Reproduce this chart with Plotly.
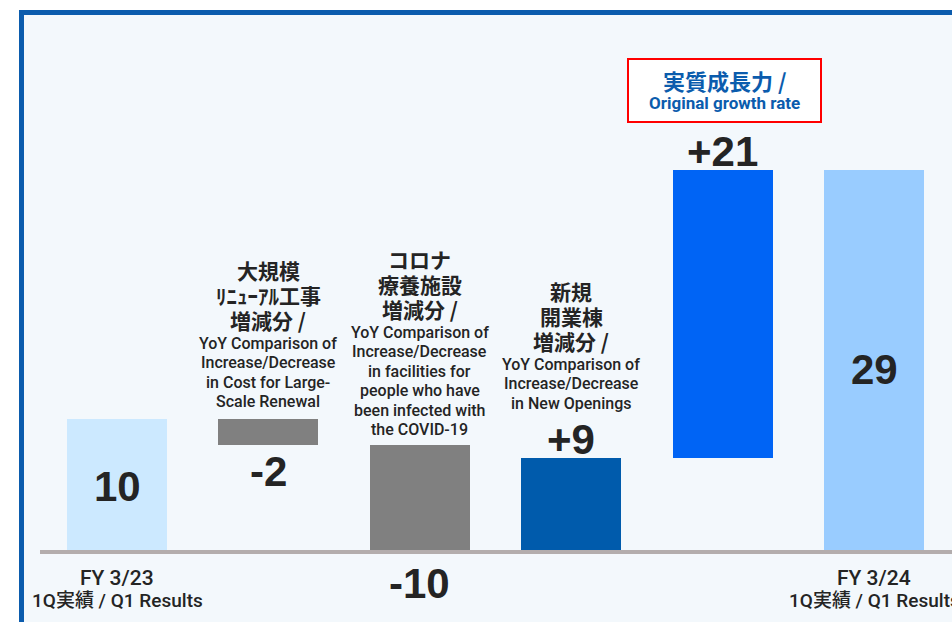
import plotly.graph_objects as go

W, H = 952, 622

# ---- data ----
categories = ["FY 3/23", "Renewal", "COVID-19", "New Openings", "Growth", "FY 3/24"]
bar_low = [0, 8, 0, 0, 7, 0]
bar_high = [10, 10, 8, 7, 29, 29]
value_labels = ["10", "-2", "-10", "+9", "+21", "29"]
bar_colors = ["#cce9ff", "#808080", "#808080", "#005bac", "#0064f5", "#99ccff"]

desc_jp = {
    1: ["大規模", "ﾘﾆｭｰｱﾙ工事", "増減分 /"],
    2: ["コロナ", "療養施設", "増減分 /"],
    3: ["新規", "開業棟", "増減分 /"],
}
desc_en = {
    1: ["YoY Comparison of", "Increase/Decrease", "in Cost for Large-", "Scale Renewal"],
    2: ["YoY Comparison of", "Increase/Decrease", "in facilities for", "people who have",
        "been infected with", "the COVID-19"],
    3: ["YoY Comparison of", "Increase/Decrease", "in New Openings"],
}
cat_line1 = {0: "FY 3/23", 5: "FY 3/24"}
cat_line2 = {0: "1Q実績 / Q1 Results", 5: "1Q実績 / Q1 Results"}
box_jp = "実質成長力 /"
box_en = "Original growth rate"

# ---- pixel mapping ----
X0PX, DXPX = 117, 151.4          # centre of first bar, spacing
Y0PX, PXU = 550, 13.1            # baseline pixel, pixels per unit
xr = [(0 - X0PX) / DXPX, (W - X0PX) / DXPX]
yr = [(Y0PX - H) / PXU, Y0PX / PXU]
def py(p):  # pixel y -> paper
    return 1 - p / H
def px(p):
    return p / W

xs = list(range(len(categories)))
fig = go.Figure(go.Bar(
    x=xs, y=[h - l for h, l in zip(bar_high, bar_low)], base=bar_low,
    width=100 / DXPX, marker=dict(color=bar_colors, line=dict(width=0)),
    hoverinfo="skip", showlegend=False,
))

TXT = "#242424"
NUMF = dict(family="Liberation Sans, Arial", size=42, color=TXT, weight="bold")
JPF = dict(family="Noto Sans CJK JP", size=21, color=TXT, weight="bold")
ENF = dict(family="Roboto, Liberation Sans", size=16, color=TXT, weight=500)

ann = []
def add(x, y, text, font, xref="x"):
    ann.append(dict(x=x, y=y, xref=xref, yref="paper", text=text, showarrow=False,
                    font=font, xanchor="center", yanchor="middle"))

def ypix(v):
    return Y0PX - v * PXU

# value labels
for i, (lo, hi) in enumerate(zip(bar_low, bar_high)):
    if i in (0, 5):
        yp = (ypix(lo) + ypix(hi)) / 2 + (2 if i == 0 else 9)
    elif i == 1:
        yp = ypix(lo) + 26
    elif i == 2:
        yp = ypix(lo) + 33
    else:
        yp = ypix(hi) - 19
    add(i, py(yp), value_labels[i], NUMF)

# descriptions
jp_start = {1: 270, 2: 259, 3: 291}
for i, lines in desc_jp.items():
    y = jp_start[i]
    for ln in lines:
        add(i, py(y), ln, JPF)
        y += 25
    y -= 2
    for ln in desc_en[i]:
        add(i, py(y), ln, ENF)
        y += 19.5

# category labels
for i in cat_line1:
    add(i, py(578), cat_line1[i], dict(family="Roboto, Noto Sans CJK JP", size=21, color=TXT, weight=500))
    add(i, py(600), cat_line2[i], dict(family="Roboto, Noto Sans CJK JP", size=19, color=TXT, weight=500))

# red box
BOXC = "#0b5cad"
add(px(724.5), py(80), box_jp, dict(family="Noto Sans CJK JP", size=22, color=BOXC, weight="bold"), xref="paper")
add(px(724.5), py(103), box_en, dict(family="Roboto, Liberation Sans", size=17, color=BOXC, weight="bold"), xref="paper")

shapes = [
    dict(type="rect", xref="paper", yref="paper", x0=px(21.5), x1=px(1100), y0=py(12.5), y1=py(800),
         fillcolor="#f3f8fc", line=dict(color="#0b5cad", width=5), layer="below"),
    dict(type="rect", xref="paper", yref="paper", x0=px(628), x1=px(821), y0=py(59), y1=py(122),
         fillcolor="white", line=dict(color="#ff0000", width=2), layer="below"),
    dict(type="line", xref="paper", yref="paper", x0=px(40), x1=px(W + 5), y0=py(552), y1=py(552),
         line=dict(color="#b3adad", width=4), layer="above"),
]

fig.update_layout(
    width=W, height=H, margin=dict(l=0, r=0, t=0, b=0),
    paper_bgcolor="white", plot_bgcolor="rgba(0,0,0,0)",
    xaxis=dict(range=xr, visible=False, fixedrange=True),
    yaxis=dict(range=yr, visible=False, fixedrange=True),
    annotations=ann, shapes=shapes, bargap=0,
)
fig.write_html("out.html", config={"displayModeBar": False},
               post_script="document.body.style.margin='0';document.body.style.overflow='hidden';")
